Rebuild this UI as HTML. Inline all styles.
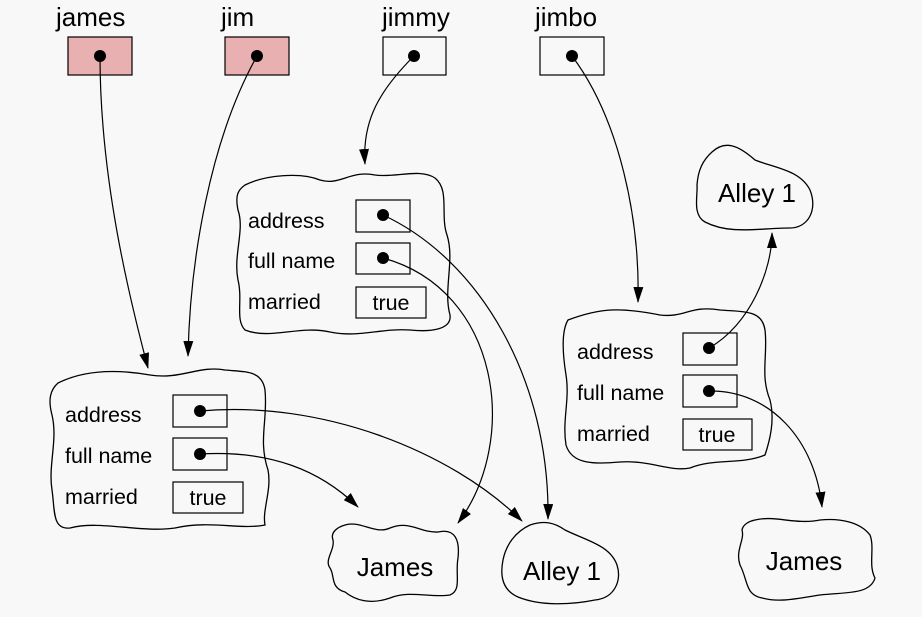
<!DOCTYPE html>
<html><head><meta charset="utf-8"><style>
html,body{margin:0;padding:0;background:#f8f8f8;}
svg{display:block;}
text{font-family:"Liberation Sans",sans-serif;fill:#000;}
</style></head><body>
<svg width="922" height="617" viewBox="0 0 922 617" xmlns="http://www.w3.org/2000/svg">
<defs>
<marker id="a" markerWidth="16" markerHeight="10" refX="15" refY="5" orient="auto" markerUnits="userSpaceOnUse">
<path d="M0,0 L16,5 L0,10 Z" fill="#000"/>
</marker>
</defs>
<rect width="922" height="617" fill="#f8f8f8"/>

<g font-size="26">
<text x="56" y="26">james</text>
<text x="221" y="26">jim</text>
<text x="382" y="26">jimmy</text>
<text x="535" y="26">jimbo</text>
</g>
<g stroke="#000" stroke-width="1.2">
<rect x="68" y="37" width="64" height="38" fill="#e8b0b0"/>
<rect x="225" y="37" width="64" height="38" fill="#e8b0b0"/>
<rect x="383" y="37" width="63" height="38" fill="none"/>
<rect x="540" y="37" width="64" height="38" fill="none"/>
</g>

<g fill="none" stroke="#000" stroke-width="1.3">
<path d="M245,185 C265,175 300,172 320,180 C340,186 350,170 375,175 C395,178 420,168 435,178 C450,190 440,215 447,235 C455,260 443,290 450,315 C452,330 430,332 410,330 C380,328 360,338 330,332 C300,325 270,340 245,330 C235,320 243,300 238,280 C233,255 245,230 238,210 C235,195 238,190 245,185 Z"/>
<path d="M58,383 C80,372 110,368 150,375 C180,380 200,365 225,370 C245,372 262,370 265,390 C268,420 258,440 268,470 C272,490 262,510 265,525 C240,530 210,520 175,528 C140,533 100,520 70,528 C52,530 55,510 52,490 C48,465 58,440 52,415 C48,400 50,390 58,383 Z"/>
<path d="M568,320 C600,308 620,307 660,315 C685,318 690,305 720,310 C745,312 762,310 765,330 C768,355 760,375 770,400 C775,420 770,440 765,455 C740,465 715,458 690,468 C670,472 650,460 620,462 C595,464 572,465 566,445 C562,420 570,400 566,375 C562,350 562,330 568,320 Z"/>
<path d="M712,152 C725,140 738,145 755,160 C775,168 800,170 810,190 C818,210 808,228 790,228 C760,228 730,235 705,222 C692,215 698,195 697,185 C698,170 703,160 712,152 Z"/>
<path d="M345,525 C360,520 375,535 390,528 C410,520 420,533 438,532 C455,528 460,540 458,558 C455,575 462,590 450,595 C430,598 410,590 390,598 C370,605 355,600 345,592 C330,588 335,575 330,568 C324,560 335,550 333,540 C330,532 338,527 345,525 Z"/>
<path d="M530,525 C545,520 555,523 565,530 C585,540 610,545 617,565 C622,580 615,598 595,600 C570,605 540,606 518,597 C502,590 500,575 503,560 C506,545 515,532 530,525 Z"/>
<path d="M755,520 C775,515 795,525 820,520 C840,518 860,522 870,535 C875,548 868,565 875,578 C870,595 845,592 820,595 C800,598 780,603 762,598 C745,595 748,580 740,565 C735,550 745,540 742,530 C743,524 750,521 755,520 Z"/>
</g>

<g stroke="#000" stroke-width="1.2" fill="none">
<rect x="356" y="200" width="54" height="32"/>
<rect x="356" y="243" width="54" height="31"/>
<rect x="356" y="287" width="70" height="31"/>
<rect x="173" y="395" width="54" height="32"/>
<rect x="173" y="438" width="54" height="32"/>
<rect x="173" y="482" width="70" height="31"/>
<rect x="683" y="333" width="54" height="32"/>
<rect x="683" y="375" width="54" height="32"/>
<rect x="683" y="419" width="69" height="31"/>
</g>

<g font-size="21.5">
<text x="248" y="228">address</text>
<text x="248" y="268">full name</text>
<text x="248" y="309">married</text>
<text x="391" y="310" text-anchor="middle">true</text>
<text x="65" y="422">address</text>
<text x="65" y="463">full name</text>
<text x="65" y="504">married</text>
<text x="208" y="505" text-anchor="middle">true</text>
<text x="577" y="359">address</text>
<text x="577" y="400">full name</text>
<text x="577" y="441">married</text>
<text x="717" y="442" text-anchor="middle">true</text>
</g>
<g font-size="26">
<text x="757" y="202" text-anchor="middle">Alley 1</text>
<text x="395" y="576" text-anchor="middle">James</text>
<text x="562" y="580" text-anchor="middle">Alley 1</text>
<text x="804" y="570" text-anchor="middle">James</text>
</g>

<g fill="none" stroke="#000" stroke-width="1.2" marker-end="url(#a)">
<path d="M100,56 C100,180 130,300 148,368"/>
<path d="M257,56 C210,140 190,260 188,356"/>
<path d="M414,56 C380,90 362,120 365,164"/>
<path d="M572,56 C620,120 640,220 638,302"/>
<path d="M383,215 C480,260 550,380 548,519"/>
<path d="M383,258 C500,290 520,440 458,523"/>
<path d="M200,411 C320,400 450,450 522,521"/>
<path d="M200,454 C270,450 320,470 358,507"/>
<path d="M709,348 C750,325 772,270 772,233"/>
<path d="M709,391 C770,390 815,440 822,507"/>
</g>
<g fill="#000">
<circle cx="100" cy="56" r="6"/>
<circle cx="257" cy="56" r="6"/>
<circle cx="414" cy="56" r="6"/>
<circle cx="572" cy="56" r="6"/>
<circle cx="383" cy="215" r="6"/>
<circle cx="383" cy="258" r="6"/>
<circle cx="200" cy="411" r="6"/>
<circle cx="200" cy="454" r="6"/>
<circle cx="709" cy="348" r="6"/>
<circle cx="709" cy="391" r="6"/>
</g>
</svg>
</body></html>
